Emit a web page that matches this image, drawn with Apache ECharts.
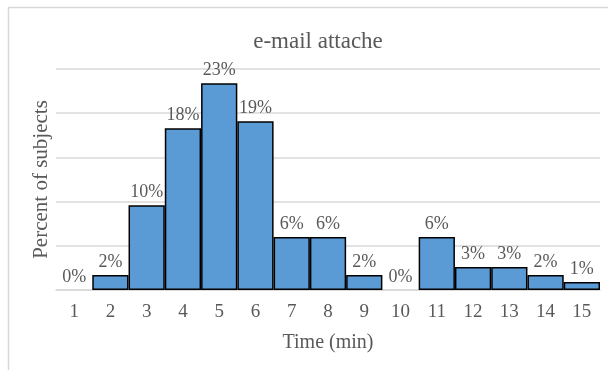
<!DOCTYPE html>
<html>
<head>
<meta charset="utf-8">
<style>
  html, body { margin: 0; padding: 0; background: #fff; }
  #chart { width: 608px; height: 370px; }
</style>
<script src="https://cdn.jsdelivr.net/npm/echarts@6/dist/echarts.min.js"></script>
</head>
<body>
<div id="chart"></div>
<script>
// Time bins (minutes) and share of subjects in each bin (percent)
const categories = ['1', '2', '3', '4', '5', '6', '7', '8', '9', '10', '11', '12', '13', '14', '15'];
const percentValues = [0, 1.7, 9.6, 18.3, 23.4, 19.1, 6.0, 6.0, 1.7, 0, 6.0, 2.6, 2.6, 1.7, 0.9];
const chartTitle = 'e-mail attache';
const xAxisTitle = 'Time (min)';
const yAxisTitle = 'Percent of subjects';

const serif = '"Liberation Serif", "Times New Roman", serif';
const textGray = '#595959';
const lineGray = '#d9d9d9';

// empty bins keep their label but draw no outline along the baseline
const barData = percentValues.map(v => v === 0
  ? { value: v, itemStyle: { borderWidth: 0 } }
  : v);

const chart = echarts.init(document.getElementById('chart'), null, { renderer: 'canvas' });

chart.setOption({
  animation: false,
  backgroundColor: '#ffffff',
  graphic: [{
    type: 'rect',
    shape: { x: 8.5, y: 7.5, width: 700, height: 500 },
    style: { fill: 'none', stroke: lineGray, lineWidth: 1.5 },
    silent: true
  }],
  title: {
    text: chartTitle,
    left: 313,
    textAlign: 'center',
    top: 25,
    textStyle: { fontFamily: serif, fontSize: 23, fontWeight: 'normal', color: textGray }
  },
  grid: { left: 56, right: 8, top: 69, bottom: 80 },
  xAxis: {
    type: 'category',
    data: categories,
    name: xAxisTitle,
    nameLocation: 'middle',
    nameGap: 43,
    nameTextStyle: { fontFamily: serif, fontSize: 20, color: textGray },
    axisLine: { lineStyle: { color: lineGray, width: 1.5 } },
    axisTick: { show: false },
    axisLabel: { fontFamily: serif, fontSize: 19, color: textGray, margin: 13 }
  },
  yAxis: {
    type: 'value',
    min: 0,
    max: 25,
    interval: 5,
    name: yAxisTitle,
    nameLocation: 'middle',
    nameGap: 4,
    nameTextStyle: { fontFamily: serif, fontSize: 21, color: textGray },
    axisLine: { show: false },
    axisTick: { show: false },
    axisLabel: { show: false },
    splitLine: { lineStyle: { color: lineGray, width: 1.5 } }
  },
  series: [{
    type: 'bar',
    data: barData,
    barCategoryGap: '0%',
    itemStyle: { color: '#5b9bd5', borderColor: '#000000', borderWidth: 1.5 },
    label: {
      show: true,
      position: 'top',
      distance: 4,
      fontFamily: serif,
      fontSize: 18,
      color: textGray,
      formatter: p => Math.round(p.value) + '%'
    }
  }]
});
</script>
</body>
</html>
